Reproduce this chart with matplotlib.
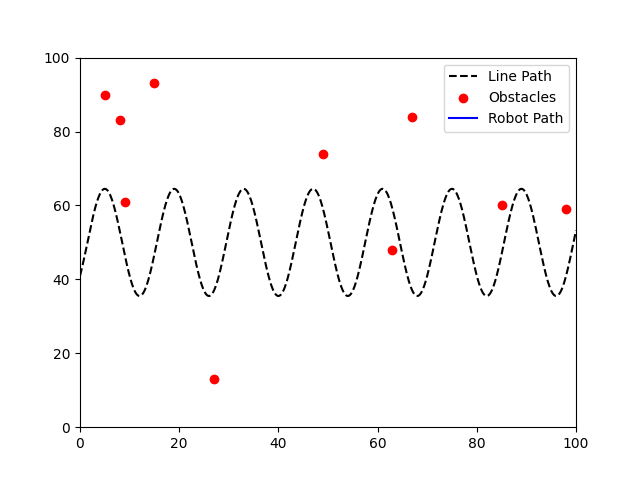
import numpy as np
import matplotlib
matplotlib.use("Agg")
import matplotlib.pyplot as plt

# Line path parameters (sinusoidal reference path)
path_center = 50
path_amplitude = 14.5
path_period = 14
path_phase = 1.5

obstacle_x = [5, 8, 9, 15, 27, 49, 63, 67, 85, 98]
obstacle_y = [90, 83, 61, 93, 13, 74, 48, 84, 60, 59]

robot_x = []
robot_y = []

fig, ax = plt.subplots(figsize=(6.4, 4.8), dpi=100)
xs = np.linspace(0, 100, 1000)
ys = path_center + path_amplitude * np.sin(2 * np.pi * (xs - path_phase) / path_period)
ax.plot(xs, ys, 'k--', label='Line Path')
ax.scatter(obstacle_x, obstacle_y, color='red', label='Obstacles')
ax.plot(robot_x, robot_y, 'b-', label='Robot Path')
ax.set_xlim(0, 100)
ax.set_ylim(0, 100)
ax.legend(loc='upper right')
fig.savefig('out.png')
